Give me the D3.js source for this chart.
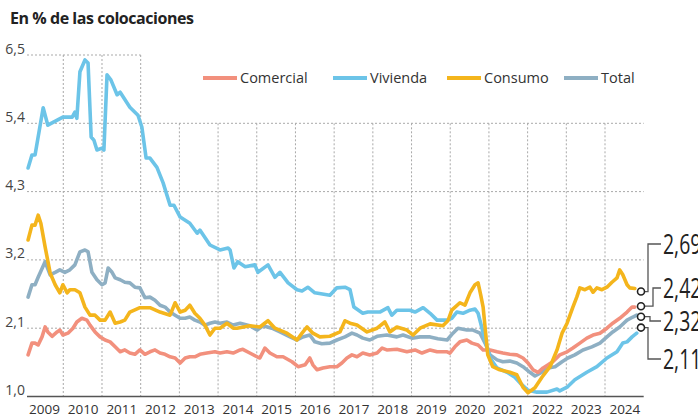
<!DOCTYPE html>
<html>
<head>
<meta charset="utf-8">
<script src="https://cdn.jsdelivr.net/npm/d3@7"></script>
<style>
  body { margin: 0; background: #fff; }
  text { font-family: "Open Sans", "Noto Sans", sans-serif; }
</style>
</head>
<body>
<div id="chart"></div>
<script>

// ---- data (% de las colocaciones) ----
var years = [2009, 2010, 2011, 2012, 2013, 2014, 2015, 2016, 2017, 2018, 2019, 2020, 2021, 2022, 2023, 2024];
var yTicks = [1.0, 2.1, 3.2, 4.3, 5.4, 6.5];

var comercial = [
  [2009.09,1.67],[2009.19,1.86],[2009.27,1.86],[2009.35,1.83],[2009.45,1.96],[2009.53,2.12],[2009.60,2.04],[2009.71,1.97],
  [2009.84,2.04],[2009.91,2.07],[2009.99,1.99],[2010.12,2.02],[2010.25,2.10],[2010.35,2.20],[2010.48,2.26],[2010.61,2.23],
  [2010.69,2.15],[2010.82,2.04],[2010.95,1.96],[2011.08,1.91],[2011.21,1.88],[2011.34,1.80],[2011.47,1.72],[2011.59,1.75],
  [2011.72,1.70],[2011.85,1.68],[2011.98,1.75],[2012.11,1.68],[2012.24,1.72],[2012.37,1.75],[2012.50,1.70],[2012.63,1.68],
  [2012.76,1.64],[2012.89,1.62],[2013.02,1.54],[2013.15,1.62],[2013.27,1.64],[2013.40,1.64],[2013.53,1.68],[2013.71,1.70],
  [2013.92,1.72],[2014.05,1.70],[2014.23,1.72],[2014.39,1.70],[2014.57,1.75],[2014.64,1.76],[2014.82,1.70],[2015.01,1.64],
  [2015.08,1.62],[2015.21,1.78],[2015.34,1.70],[2015.52,1.64],[2015.68,1.64],[2015.91,1.56],[2016.07,1.48],[2016.25,1.51],
  [2016.37,1.62],[2016.45,1.51],[2016.56,1.43],[2016.71,1.46],[2016.89,1.48],[2017.07,1.48],[2017.20,1.54],[2017.33,1.62],
  [2017.46,1.67],[2017.59,1.64],[2017.74,1.70],[2017.92,1.67],[2018.11,1.70],[2018.24,1.78],[2018.36,1.75],[2018.62,1.76],
  [2018.88,1.72],[2019.09,1.75],[2019.27,1.70],[2019.48,1.75],[2019.66,1.72],[2019.92,1.72],[2019.99,1.70],[2020.12,1.80],
  [2020.25,1.88],[2020.43,1.91],[2020.56,1.86],[2020.72,1.83],[2020.85,1.75],[2021.03,1.75],[2021.21,1.72],[2021.36,1.70],
  [2021.54,1.68],[2021.72,1.67],[2021.88,1.62],[2022.01,1.54],[2022.14,1.43],[2022.27,1.39],[2022.40,1.46],[2022.53,1.51],
  [2022.65,1.56],[2022.83,1.67],[2023.02,1.72],[2023.17,1.78],[2023.35,1.86],[2023.53,1.94],[2023.69,1.99],[2023.87,2.02],
  [2024.05,2.10],[2024.20,2.18],[2024.38,2.26],[2024.57,2.36],[2024.70,2.44],[2024.77,2.44]
];

var vivienda = [
  [2009.09,4.68],[2009.19,4.89],[2009.27,4.89],[2009.48,5.65],[2009.60,5.37],[2009.99,5.50],[2010.23,5.50],[2010.30,5.58],
  [2010.35,5.48],[2010.43,6.23],[2010.56,6.42],[2010.64,6.37],[2010.72,5.18],[2010.79,5.13],[2010.87,4.97],[2011.00,5.00],
  [2011.05,4.97],[2011.13,6.18],[2011.23,6.10],[2011.39,5.86],[2011.47,5.90],[2011.72,5.66],[2011.93,5.53],[2012.03,5.34],
  [2012.14,4.84],[2012.24,4.84],[2012.42,4.69],[2012.58,4.44],[2012.76,4.08],[2012.86,4.08],[2013.02,3.89],[2013.27,3.79],
  [2013.46,3.63],[2013.53,3.68],[2013.79,3.44],[2014.05,3.36],[2014.26,3.39],[2014.31,3.36],[2014.41,3.07],[2014.51,3.17],
  [2014.70,3.09],[2014.95,3.12],[2015.03,3.00],[2015.29,3.12],[2015.47,2.92],[2015.60,3.00],[2015.81,2.83],[2016.04,2.72],
  [2016.17,2.70],[2016.32,2.76],[2016.50,2.67],[2016.89,2.63],[2017.07,2.75],[2017.28,2.76],[2017.41,2.72],[2017.51,2.44],
  [2017.74,2.34],[2017.87,2.36],[2018.18,2.36],[2018.39,2.43],[2018.49,2.31],[2018.62,2.39],[2018.96,2.39],[2019.09,2.36],
  [2019.30,2.43],[2019.48,2.34],[2019.66,2.23],[2019.92,2.23],[2020.04,2.26],[2020.17,2.36],[2020.33,2.34],[2020.51,2.39],
  [2020.64,2.41],[2020.72,2.34],[2020.90,1.91],[2021.03,1.62],[2021.21,1.46],[2021.47,1.39],[2021.67,1.31],[2021.85,1.19],
  [2022.01,1.10],[2022.24,1.07],[2022.50,1.07],[2022.76,1.12],[2022.83,1.09],[2023.02,1.15],[2023.22,1.27],[2023.53,1.39],
  [2023.79,1.48],[2024.05,1.62],[2024.31,1.72],[2024.46,1.86],[2024.57,1.88],[2024.70,1.96],[2024.82,2.02]
];

var consumo = [
  [2009.09,3.52],[2009.19,3.76],[2009.27,3.76],[2009.35,3.92],[2009.42,3.79],[2009.53,3.41],[2009.66,2.99],[2009.79,2.80],
  [2009.91,2.67],[2009.99,2.80],[2010.10,2.67],[2010.17,2.72],[2010.30,2.72],[2010.43,2.67],[2010.56,2.44],[2010.69,2.31],
  [2010.82,2.31],[2010.95,2.23],[2011.08,2.23],[2011.21,2.36],[2011.34,2.18],[2011.47,2.20],[2011.59,2.23],[2011.72,2.36],
  [2011.98,2.43],[2012.24,2.43],[2012.50,2.36],[2012.76,2.31],[2012.89,2.51],[2013.02,2.36],[2013.15,2.39],[2013.27,2.47],
  [2013.40,2.34],[2013.53,2.26],[2013.66,2.15],[2013.79,1.99],[2013.92,2.10],[2014.05,2.10],[2014.23,2.18],[2014.39,2.10],
  [2014.49,2.10],[2014.82,2.14],[2015.08,2.12],[2015.29,2.22],[2015.47,2.10],[2015.78,2.02],[2016.04,1.91],[2016.17,2.02],
  [2016.30,2.12],[2016.45,2.02],[2016.63,1.96],[2016.89,1.97],[2017.15,2.04],[2017.28,2.22],[2017.41,2.18],[2017.59,2.15],
  [2017.85,2.04],[2018.11,2.10],[2018.31,2.20],[2018.44,2.04],[2018.62,2.12],[2018.88,2.07],[2019.04,1.99],[2019.22,2.10],
  [2019.48,2.17],[2019.81,2.14],[2019.94,2.22],[2020.04,2.39],[2020.25,2.51],[2020.38,2.47],[2020.51,2.67],[2020.64,2.80],
  [2020.72,2.83],[2020.79,2.63],[2020.85,2.44],[2020.97,1.67],[2021.10,1.48],[2021.28,1.43],[2021.54,1.39],[2021.72,1.35],
  [2021.88,1.15],[2022.01,1.06],[2022.19,1.14],[2022.37,1.31],[2022.58,1.48],[2022.76,1.75],[2022.89,2.02],[2023.02,2.18],
  [2023.17,2.44],[2023.27,2.60],[2023.35,2.75],[2023.48,2.72],[2023.61,2.76],[2023.69,2.68],[2023.79,2.75],[2023.92,2.72],
  [2024.05,2.76],[2024.18,2.84],[2024.31,2.91],[2024.38,3.04],[2024.46,2.96],[2024.57,2.80],[2024.64,2.75],[2024.77,2.74]
];

var total = [
  [2009.09,2.60],[2009.19,2.80],[2009.27,2.80],[2009.35,2.92],[2009.53,3.17],[2009.66,2.96],[2009.79,3.00],[2009.91,3.04],
  [2010.04,3.00],[2010.17,3.04],[2010.30,3.12],[2010.43,3.33],[2010.56,3.36],[2010.64,3.33],[2010.74,3.00],[2010.87,2.88],
  [2011.00,2.80],[2011.08,2.83],[2011.16,3.07],[2011.26,3.00],[2011.34,2.91],[2011.47,2.88],[2011.59,2.84],[2011.72,2.83],
  [2011.85,2.76],[2011.98,2.75],[2012.11,2.59],[2012.24,2.60],[2012.37,2.55],[2012.50,2.47],[2012.63,2.44],[2012.76,2.36],
  [2012.89,2.31],[2013.02,2.26],[2013.15,2.26],[2013.27,2.28],[2013.40,2.23],[2013.53,2.20],[2013.66,2.15],[2013.79,2.18],
  [2013.92,2.20],[2014.05,2.18],[2014.23,2.20],[2014.39,2.15],[2014.57,2.18],[2014.82,2.14],[2015.01,2.07],[2015.16,2.14],
  [2015.39,2.10],[2015.60,2.04],[2015.86,1.96],[2016.04,1.91],[2016.19,1.96],[2016.37,1.99],[2016.50,1.88],[2016.68,1.85],
  [2016.89,1.86],[2017.07,1.91],[2017.28,1.96],[2017.46,2.02],[2017.59,1.99],[2017.74,1.94],[2017.92,1.91],[2018.11,1.97],
  [2018.36,1.99],[2018.62,1.96],[2018.78,1.99],[2019.01,1.94],[2019.22,1.96],[2019.48,1.96],[2019.68,1.93],[2019.92,1.91],
  [2020.07,2.02],[2020.20,2.10],[2020.43,2.07],[2020.59,2.07],[2020.77,2.02],[2020.90,1.86],[2021.03,1.67],[2021.21,1.59],
  [2021.36,1.56],[2021.54,1.57],[2021.72,1.54],[2021.88,1.48],[2022.06,1.39],[2022.19,1.33],[2022.37,1.39],[2022.53,1.46],
  [2022.71,1.48],[2022.89,1.56],[2023.04,1.62],[2023.22,1.67],[2023.43,1.75],[2023.66,1.80],[2023.87,1.86],[2024.05,1.96],
  [2024.20,2.04],[2024.38,2.12],[2024.57,2.23],[2024.72,2.28],[2024.82,2.31]
];

// last value of each series as printed at the right
var seriesNames = ["Comercial", "Vivienda", "Consumo", "Total"];
var lastValues = [2.42, 2.11, 2.69, 2.32];

// ---- drawing ----
var width = 698, height = 419;
var colors = { Comercial: "#f2907d", Vivienda: "#6cc4e8", Consumo: "#f4b51c", Total: "#8eafc3" };
var seriesData = { Comercial: comercial, Vivienda: vivienda, Consumo: consumo, Total: total };

var x = d3.scaleLinear().domain([2009, 2025]).range([24.6, 643.7]);
var y = d3.scaleLinear().domain([1, 6.5]).range([396.5, 55]);
var left = 27;

var svg = d3.select("#chart").append("svg")
    .attr("width", width)
    .attr("height", height);

svg.append("text")
    .attr("x", 10).attr("y", 24)
    .attr("font-size", 16).attr("font-weight", 700)
    .attr("letter-spacing", "-0.45px")
    .attr("fill", "#222")
    .text("En % de las colocaciones");

// grid: top-right corner left open for the legend
var grid = svg.append("g")
    .attr("stroke", "#a9a9a9")
    .attr("stroke-width", 1)
    .attr("stroke-dasharray", "2,2");

grid.selectAll(".hg")
    .data(yTicks.slice(1))
  .enter().append("line")
    .attr("x1", left)
    .attr("x2", function(d) { return d == 6.5 ? x(2012) : x(2025); })
    .attr("y1", function(d) { return y(d); })
    .attr("y2", function(d) { return y(d); });

grid.selectAll(".vg")
    .data(years.slice(1))
  .enter().append("line")
    .attr("x1", function(d) { return x(d); })
    .attr("x2", function(d) { return x(d); })
    .attr("y1", function(d) { return d <= 2012 ? y(6.5) : y(5.4); })
    .attr("y2", y(1));

// y labels sit above their grid line
var yAxis = d3.axisLeft(y)
    .tickValues(yTicks)
    .tickSize(0)
    .tickPadding(0)
    .tickFormat(function(d) { return d3.format(".1f")(d).replace(".", ","); });

var yg = svg.append("g").attr("transform", "translate(25,0)").call(yAxis);
yg.select(".domain").remove();
yg.selectAll("text")
    .attr("dy", "-2px")
    .attr("font-size", 14)
    .attr("font-family", "'Open Sans', sans-serif")
    .attr("fill", "#444");

// x labels centred in each year
var xAxis = d3.axisBottom(x)
    .tickValues(years.map(function(d) { return d + 0.5; }))
    .tickSize(0)
    .tickPadding(8)
    .tickFormat(function(d) { return String(Math.floor(d)); });

var xg = svg.append("g").attr("transform", "translate(0," + y(1) + ")").call(xAxis);
xg.select(".domain").remove();
xg.selectAll("text")
    .attr("font-size", 13.5)
    .attr("font-family", "'Open Sans', sans-serif")
    .attr("fill", "#333");

svg.append("line")
    .attr("x1", left).attr("x2", x(2025))
    .attr("y1", y(1)).attr("y2", y(1))
    .attr("stroke", "#555").attr("stroke-width", 1.5);

// lines
var line = d3.line()
    .x(function(d) { return x(d[0]); })
    .y(function(d) { return y(d[1]); });

["Total", "Comercial", "Vivienda", "Consumo"].forEach(function(name) {
    svg.append("path")
        .datum(seriesData[name])
        .attr("fill", "none")
        .attr("stroke", colors[name])
        .attr("stroke-width", 3.6)
        .attr("stroke-linejoin", "round")
        .attr("stroke-linecap", "round")
        .attr("d", line);
});

// legend
var legendX = [203, 333, 447, 564];
var legend = svg.selectAll(".leg")
    .data(seriesNames)
  .enter().append("g")
    .attr("transform", function(d, i) { return "translate(" + legendX[i] + ",78)"; });

legend.append("line")
    .attr("x1", 0).attr("x2", 34)
    .attr("stroke", function(d) { return colors[d]; })
    .attr("stroke-width", 4);

legend.append("text")
    .attr("x", 37).attr("dy", "0.35em")
    .attr("font-size", 14.5)
    .attr("fill", "#333")
    .text(function(d) { return d; });

// end markers with leaders
var ends = seriesNames.map(function(name, i) {
    return { name: name, v: lastValues[i], cy: y(lastValues[i]) };
}).sort(function(a, b) { return a.cy - b.cy; });

// keep the little circles from overlapping
for (var k = 1; k < ends.length; k++) {
    var gap = ends[k].cy - ends[k-1].cy;
    if (gap < 10.5) {
        var push = (10.5 - gap) / 2;
        ends[k-1].cy -= push;
        ends[k].cy += push;
    }
}

var labelY = [244, 288, 321, 359];
var elbowX = [648, 653, 650, 648];
var cx = 641;

ends.forEach(function(e, i) {
    svg.append("path")
        .attr("d", "M" + (cx + 3.5) + "," + e.cy + "H" + elbowX[i] + "V" + labelY[i] + "H661")
        .attr("fill", "none")
        .attr("stroke", "#555")
        .attr("stroke-width", 1.3);

    svg.append("circle")
        .attr("cx", cx).attr("cy", e.cy).attr("r", 3.5)
        .attr("fill", "#fff")
        .attr("stroke", "#222")
        .attr("stroke-width", 1.6);

    // tall condensed figures
    svg.append("text")
        .attr("transform", "translate(663," + labelY[i] + ") scale(0.72,1)")
        .attr("dy", "0.36em")
        .attr("font-family", "Roboto, sans-serif")
        .attr("font-size", 27)
        .attr("fill", "#222")
        .text(d3.format(".2f")(e.v).replace(".", ","));
});

</script>
</body>
</html>
